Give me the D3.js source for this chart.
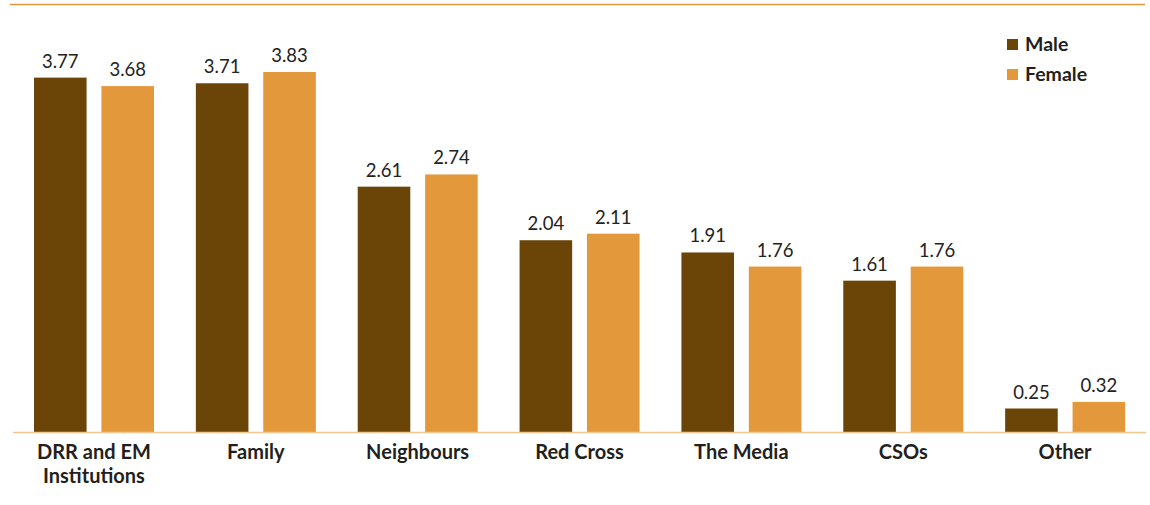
<!DOCTYPE html>
<html>
<head>
<meta charset="utf-8">
<script src="https://cdn.jsdelivr.net/npm/d3@7"></script>
<style>
  body { margin: 0; background: #fff; }
  svg { display: block; font-family: Lato, "Open Sans", sans-serif; }
</style>
</head>
<body>
<svg width="1150" height="505"></svg>
<script>
var categories = ["DRR and EM|Institutions", "Family", "Neighbours", "Red Cross", "The Media", "CSOs", "Other"];
var series = ["Male", "Female"];
var maleValues = [3.77, 3.71, 2.61, 2.04, 1.91, 1.61, 0.25];
var femaleValues = [3.68, 3.83, 2.74, 2.11, 1.76, 1.76, 0.32];
var colors = ["#6b4407", "#e3993b"];

var svg = d3.select("svg");

var data = categories.map(function(c, i) {
    return { cat: c, Male: maleValues[i], Female: femaleValues[i] };
});

var x0 = d3.scaleBand().domain(categories).range([13, 1146]).padding(0);
var x1 = d3.scaleBand().domain(series).range([21, 141]).paddingInner(0.22);
var y = d3.scaleLinear().domain([0, 4]).range([432, 56]);
var color = d3.scaleOrdinal().domain(series).range(colors);

// top rule
svg.append("line")
    .attr("x1", 10).attr("x2", 1145)
    .attr("y1", 4.5).attr("y2", 4.5)
    .style("stroke", "#e3993b")
    .style("stroke-width", 1.5);

var groups = svg.selectAll(".group")
    .data(data)
    .enter().append("g")
    .attr("class", "group")
    .attr("transform", function(d) { return "translate(" + x0(d.cat) + ",0)"; });

groups.selectAll("rect")
    .data(function(d) { return series.map(function(s) { return { key: s, value: d[s] }; }); })
    .enter().append("rect")
    .attr("x", function(d) { return x1(d.key); })
    .attr("width", x1.bandwidth())
    .attr("y", function(d) { return y(d.value); })
    .attr("height", function(d) { return y(0) - y(d.value); })
    .style("fill", function(d) { return color(d.key); });

groups.selectAll(".val")
    .data(function(d) { return series.map(function(s) { return { key: s, value: d[s] }; }); })
    .enter().append("text")
    .attr("class", "val")
    .attr("x", function(d) { return x1(d.key) + x1.bandwidth() / 2; })
    .attr("y", function(d) { return y(d.value) - 10; })
    .attr("text-anchor", "middle")
    .style("font-size", "18.5px")
    .style("fill", "#222")
    .text(function(d) { return d.value.toFixed(2); });

// baseline
svg.append("line")
    .attr("x1", 13).attr("x2", 1146)
    .attr("y1", y(0) + 0.5).attr("y2", y(0) + 0.5)
    .style("stroke", "#f0c78e")
    .style("stroke-width", 1.5);

// category labels
var labels = svg.selectAll(".cat")
    .data(categories)
    .enter().append("text")
    .attr("class", "cat")
    .attr("text-anchor", "middle")
    .style("font-size", "20px")
    .style("font-weight", "bold")
    .style("fill", "#231f20");

labels.selectAll("tspan")
    .data(function(d) { return d.split("|").map(function(t) { return { t: t, c: d }; }); })
    .enter().append("tspan")
    .attr("x", function(d) { return x0(d.c) + x0.bandwidth() / 2; })
    .attr("y", function(d, i) { return 459 + i * 24; })
    .text(function(d) { return d.t; });

// legend
var legend = svg.selectAll(".legend")
    .data(series)
    .enter().append("g")
    .attr("class", "legend")
    .attr("transform", function(d, i) { return "translate(1007," + (39 + i * 30) + ")"; });

legend.append("rect")
    .attr("width", 11).attr("height", 11)
    .style("fill", function(d) { return color(d); });

legend.append("text")
    .attr("x", 18).attr("y", 12)
    .style("font-size", "19.5px")
    .style("font-weight", "bold")
    .style("fill", "#231f20")
    .text(function(d) { return d; });
</script>
</body>
</html>
